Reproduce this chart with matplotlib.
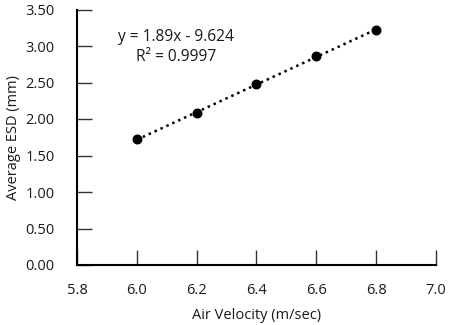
import matplotlib
matplotlib.use("Agg")
import matplotlib.pyplot as plt
import numpy as np

air_velocity = [6.0, 6.2, 6.4, 6.6, 6.8]
avg_esd = [1.72, 2.08, 2.48, 2.86, 3.22]
trend_coef = [1.89, -9.624]
r_squared = 0.9997
x_ticks = [5.8, 6.0, 6.2, 6.4, 6.6, 6.8, 7.0]
y_ticks = [0.0, 0.5, 1.0, 1.5, 2.0, 2.5, 3.0, 3.5]

plt.rcParams['font.family'] = ['Open Sans', 'DejaVu Sans']

fig = plt.figure(figsize=(4.55, 3.25), dpi=100)
ax = fig.add_axes([77/455, 1-265/325, (436-77)/455, (265-9.5)/325])

ax.scatter(air_velocity, avg_esd, s=38, color='black', zorder=3)
xt = np.array([air_velocity[0], air_velocity[-1]])
ax.plot(xt, trend_coef[0]*xt + trend_coef[1], linestyle=(0, (1, 1.6)), color='black', linewidth=1.8)

ax.set_xlim(5.8, 7.0)
ax.set_ylim(0, 3.5)
ax.set_xticks(x_ticks)
ax.set_xticklabels([f"{v:.1f}" for v in x_ticks])
ax.set_yticks(y_ticks)
ax.set_yticklabels([f"{v:.2f}" for v in y_ticks])
ax.tick_params(axis='both', direction='in', length=11, width=1.0, labelsize=10.5, colors='#333333', labelcolor='#1a1a1a')
ax.tick_params(axis='x', pad=13)
ax.tick_params(axis='y', pad=16)
for s in ['top', 'right']:
    ax.spines[s].set_visible(False)
for s in ['left', 'bottom']:
    ax.spines[s].set_linewidth(1.5)
    ax.spines[s].set_color('black')

ax.set_xlabel('Air Velocity (m/sec)', fontsize=10.5, color='#1a1a1a', labelpad=7)
ax.set_ylabel('Average ESD (mm)', fontsize=10.5, color='#1a1a1a', labelpad=3)

ax.text(176/455, 1-37/325, f"y = {trend_coef[0]:.2f}x - {abs(trend_coef[1]):.3f}",
        transform=fig.transFigure, ha='center', va='center', fontsize=11.2, color='#1a1a1a')
ax.text(176/455, 1-57/325, f"R² = {r_squared:.4f}",
        transform=fig.transFigure, ha='center', va='center', fontsize=11.2, color='#1a1a1a')

fig.savefig('out.png', dpi=100)
